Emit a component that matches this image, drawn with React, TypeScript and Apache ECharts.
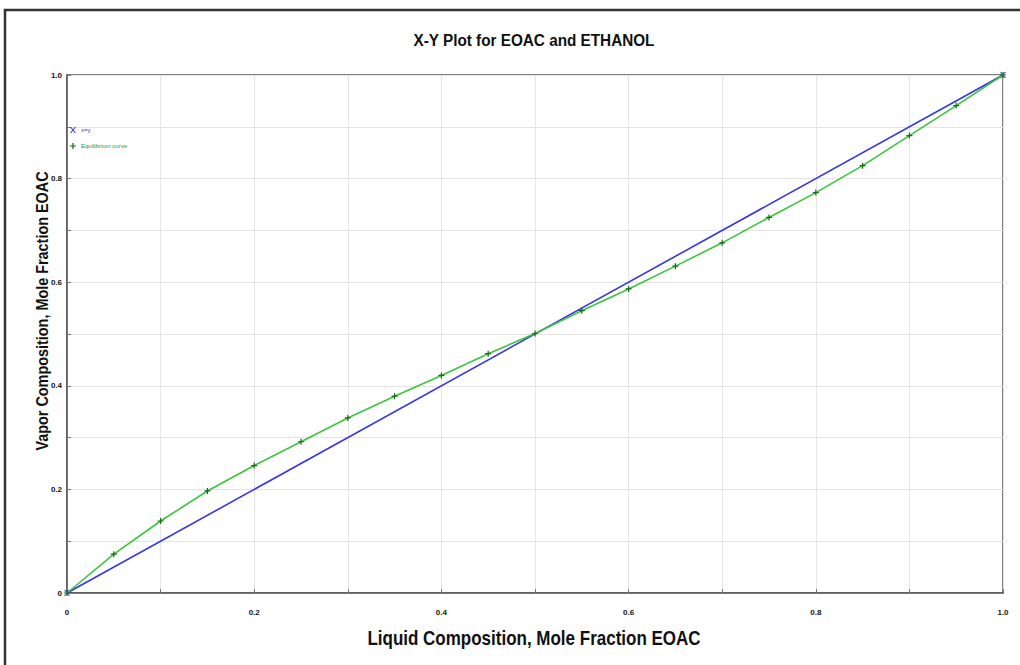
import React, { useEffect, useRef } from "react";
import * as echarts from "echarts";

const liquidX = [0, 0.05, 0.1, 0.15, 0.2, 0.25, 0.3, 0.35, 0.4, 0.45, 0.5, 0.55, 0.6, 0.65, 0.7, 0.75, 0.8, 0.85, 0.9, 0.95, 1.0];
const vaporY = [0, 0.075, 0.139, 0.197, 0.246, 0.292, 0.338, 0.38, 0.42, 0.462, 0.501, 0.545, 0.587, 0.631, 0.676, 0.725, 0.773, 0.825, 0.883, 0.941, 1.0];
const diagX = [0, 1];
const diagY = [0, 1];
const tickLabels = ["0", "0.2", "0.4", "0.6", "0.8", "1.0"];

const TITLE = "X-Y Plot for EOAC and ETHANOL";
const X_NAME = "Liquid Composition, Mole Fraction EOAC";
const Y_NAME = "Vapor Composition, Mole Fraction EOAC";
const SERIES_DIAG = "x=y";
const SERIES_EQ = "Equilibrium curve";

const FONT = "'Liberation Sans', Arial, sans-serif";
const PLUS = "path://M2,0 L3,0 L3,2 L5,2 L5,3 L3,3 L3,5 L2,5 L2,3 L0,3 L0,2 L2,2 Z";
const CROSS = "path://M0,0 L1,0 L2.5,1.8 L4,0 L5,0 L3,2.5 L5,5 L4,5 L2.5,3.2 L1,5 L0,5 L2,2.5 Z";

function labelFor(v: number): string {
  const k = Math.round(v * 10);
  if (k % 2 !== 0) return "";
  return tickLabels[k / 2] ?? "";
}

export default function App() {
  const ref = useRef<HTMLDivElement>(null);
  useEffect(() => {
    if (!ref.current) return;
    const chart = echarts.init(ref.current, null, { renderer: "svg" });
    const axisCommon = {
      type: "value" as const,
      min: 0,
      max: 1,
      interval: 0.1,
      axisLine: { show: true, lineStyle: { color: "#555", width: 1.5 } },
      axisTick: { show: true, inside: true, length: 4, lineStyle: { color: "#777" } },
      splitLine: { show: true, lineStyle: { color: "#e4e4e4", width: 1 } },
      axisLabel: {
        formatter: (v: number) => labelFor(v),
        fontSize: 8,
        fontWeight: "bold" as const,
        color: "#111",
        fontFamily: FONT,
      },
    };
    chart.setOption({
      animation: false,
      backgroundColor: "#fff",
      grid: {
        left: 67,
        right: 17,
        top: 75,
        bottom: 72,
        show: true,
        borderColor: "#555",
        borderWidth: 1.5,
        backgroundColor: "transparent",
      },
      legend: {
        orient: "vertical",
        left: 65,
        top: 122,
        itemWidth: 6,
        itemHeight: 6,
        itemGap: 10,
        textStyle: { fontSize: 6, fontFamily: FONT },
        data: [
          { name: SERIES_DIAG, icon: CROSS, textStyle: { color: "#3030e0" } },
          { name: SERIES_EQ, icon: PLUS, textStyle: { color: "#20a020" } },
        ],
      },
      xAxis: { ...axisCommon, axisLabel: { ...axisCommon.axisLabel, margin: 15 } },
      yAxis: { ...axisCommon, axisLabel: { ...axisCommon.axisLabel, margin: 5 } },
      series: [
        {
          name: SERIES_DIAG,
          type: "line",
          data: diagX.map((x, i) => [x, diagY[i]]),
          symbol: CROSS,
          symbolSize: 6,
          lineStyle: { color: "#3535e6", width: 1.6 },
          itemStyle: { color: "#3535e6" },
          z: 2,
        },
        {
          name: SERIES_EQ,
          type: "line",
          data: liquidX.map((x, i) => [x, vaporY[i]]),
          symbol: PLUS,
          symbolSize: 6,
          lineStyle: { color: "#3cc43c", width: 1.6 },
          itemStyle: { color: "#146c14" },
          z: 3,
        },
      ],
      graphic: [
        {
          type: "rect",
          shape: { x: 5, y: 10, width: 1040, height: 700 },
          style: { fill: "none", stroke: "#333", lineWidth: 2.5 },
          silent: true,
        },
        {
          type: "text",
          x: 534,
          y: 40,
          scaleX: 0.9,
          style: {
            text: TITLE,
            fill: "#111",
            font: `bold 17px ${FONT}`,
            textAlign: "center",
            textVerticalAlign: "middle",
          },
          silent: true,
        },
        {
          type: "text",
          x: 534,
          y: 638,
          scaleX: 0.85,
          style: {
            text: X_NAME,
            fill: "#111",
            font: `bold 20px ${FONT}`,
            textAlign: "center",
            textVerticalAlign: "middle",
          },
          silent: true,
        },
        {
          type: "text",
          x: 42,
          y: 311,
          rotation: Math.PI / 2,
          scaleX: 0.9,
          style: {
            text: Y_NAME,
            fill: "#111",
            font: `bold 16px ${FONT}`,
            textAlign: "center",
            textVerticalAlign: "middle",
          },
          silent: true,
        },
      ],
    });
    return () => chart.dispose();
  }, []);
  return (
    <div
      ref={ref}
      style={{ position: "fixed", left: 0, top: 0, width: 1020, height: 665 }}
    />
  );
}
